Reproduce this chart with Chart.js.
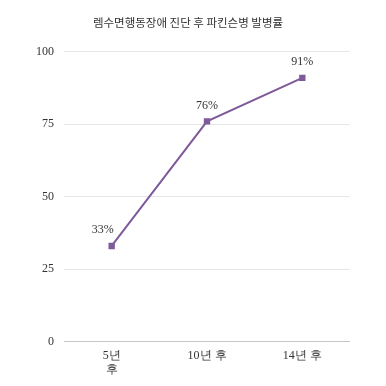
<!DOCTYPE html>
<html>
<head>
<meta charset="utf-8">
<script src="https://cdn.jsdelivr.net/npm/chart.js@4"></script>
<style>
    html, body { margin: 0; padding: 0; background: #fff; }
    #wrap { width: 386px; height: 386px; }
</style>
</head>
<body>
<div id="wrap"><canvas id="parkinsonChart"></canvas></div>
<script>
// chart data
const titleText = '렘수면행동장애 진단 후 파킨슨병 발병률';
const categories = [['5년', '후'], '10년 후', '14년 후'];
const rates = [33, 76, 91];
const yTicks = [0, 25, 50, 75, 100];

const serif = '"Liberation Serif", "DejaVu Serif", serif';
const sans = '"Noto Sans CJK KR", "Noto Sans", sans-serif';

// draws "xx%" above each point
const pointLabels = {
    id: 'pointLabels',
    afterDatasetsDraw(chart) {
        const ctx = chart.ctx;
        const meta = chart.getDatasetMeta(0);
        ctx.save();
        ctx.font = '12px ' + serif;
        ctx.fillStyle = '#333';
        ctx.textAlign = 'center';
        ctx.textBaseline = 'bottom';
        meta.data.forEach(function(pt, i) {
            const shift = i === 0 ? -9 : 0;
            ctx.fillText(rates[i] + '%', pt.x + shift, pt.y - 10);
        });
        ctx.restore();
    }
};

document.addEventListener('DOMContentLoaded', function() {
    const ctx = document.getElementById('parkinsonChart');
    new Chart(ctx, {
        type: 'line',
        data: {
            labels: categories,
            datasets: [{
                data: rates,
                borderColor: '#7f5a9b',
                backgroundColor: '#7f5a9b',
                borderWidth: 2,
                tension: 0,
                pointStyle: 'rect',
                pointRadius: 4.5,
                pointHoverRadius: 4.5,
                pointBorderWidth: 0
            }]
        },
        options: {
            responsive: true,
            maintainAspectRatio: false,
            animation: false,
            layout: {
                padding: { left: 26, right: 36, top: 12, bottom: 10 }
            },
            plugins: {
                legend: { display: false },
                tooltip: { enabled: false },
                title: {
                    display: true,
                    text: titleText,
                    color: '#333',
                    font: { family: sans, size: 11.5, weight: 'normal' },
                    padding: { top: 4, bottom: 22 }
                }
            },
            scales: {
                y: {
                    min: 0,
                    max: 100,
                    afterBuildTicks: function(axis) {
                        axis.ticks = yTicks.map(function(v) { return { value: v }; });
                    },
                    border: { display: false },
                    grid: {
                        color: function(c) { return c.tick.value === 0 ? '#c8c8c8' : '#e6e6e6'; },
                        drawTicks: false
                    },
                    ticks: {
                        color: '#333',
                        padding: 10,
                        font: { family: serif, size: 12 }
                    }
                },
                x: {
                    offset: true,
                    border: { display: false },
                    grid: { display: false },
                    ticks: {
                        color: '#333',
                        padding: 0,
                        maxRotation: 0,
                        font: { family: serif, size: 12, lineHeight: 1.1 }
                    }
                }
            }
        },
        plugins: [pointLabels]
    });
});
</script>
</body>
</html>
